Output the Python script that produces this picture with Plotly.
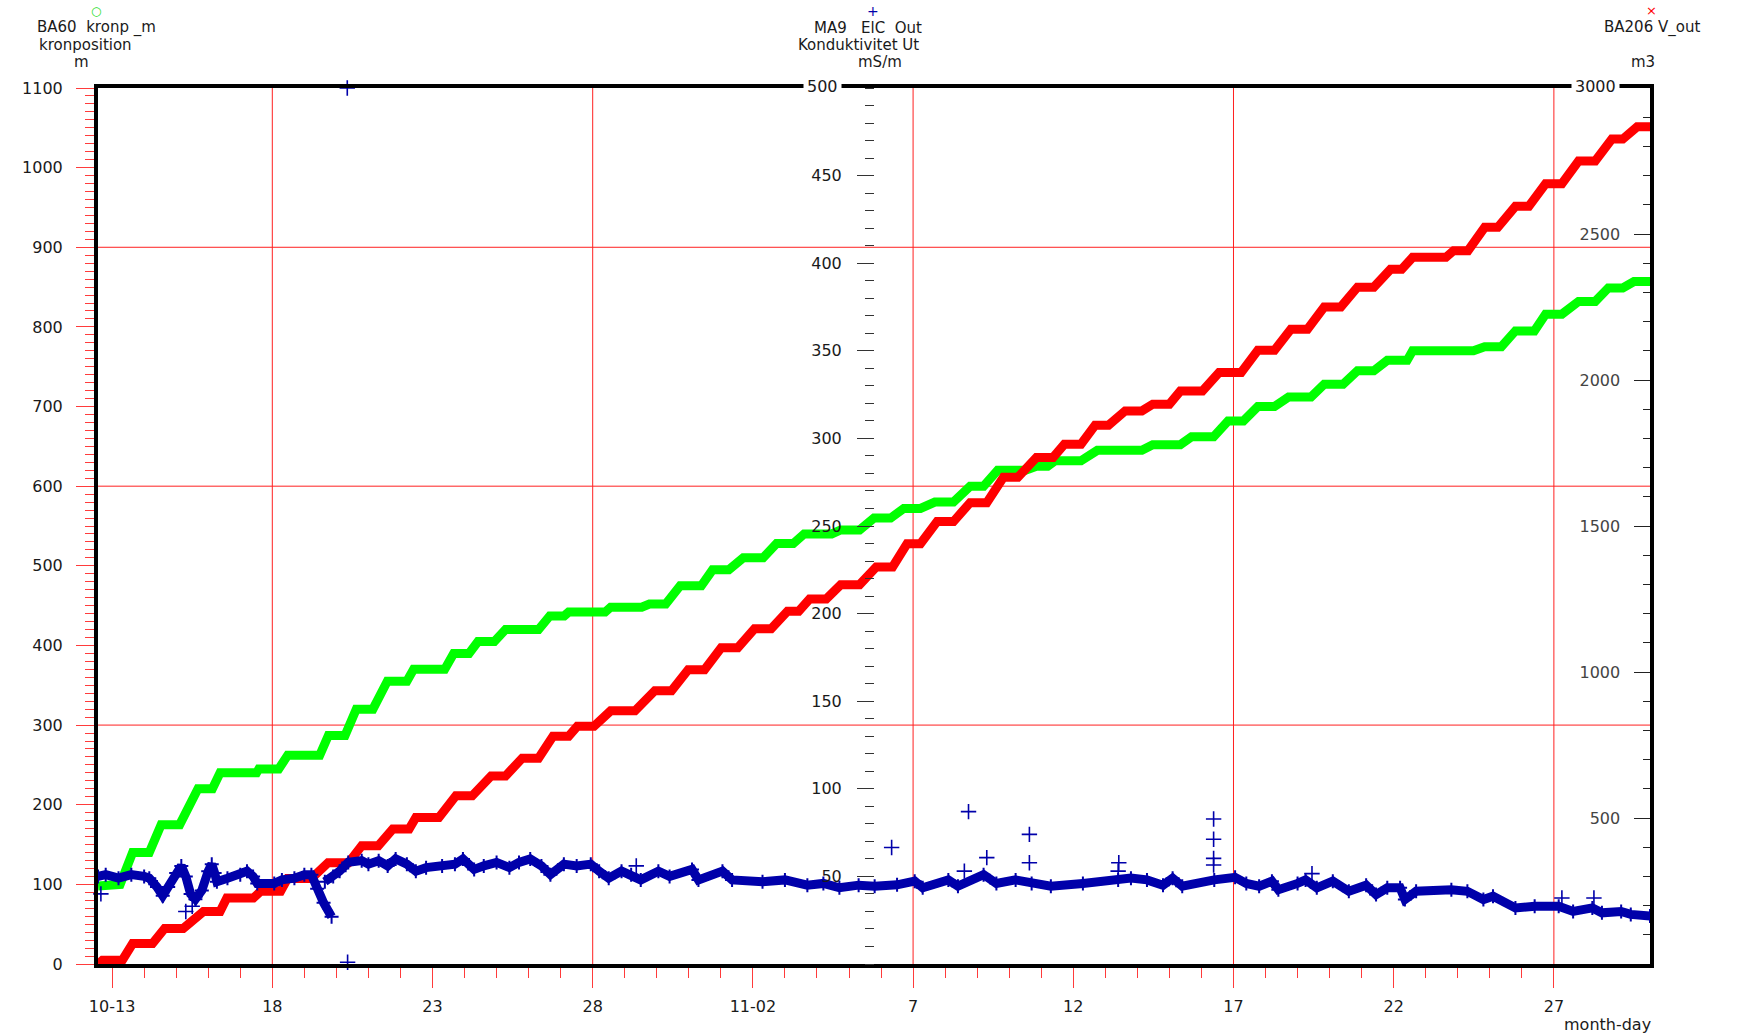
import pandas as pd
import plotly.graph_objects as go

BASE = pd.Timestamp("2023-10-13")

# ---- data (days after 2023-10-13 00:00) ----
green_days = [-0.44, 0.12, 0.25, 0.64, 1.16, 1.53, 2.11, 2.68, 3.13, 3.37, 4.51, 4.58, 5.20, 5.48, 6.48, 6.75,
              7.27, 7.62, 8.14, 8.59, 9.20, 9.41, 10.38, 10.66, 11.14, 11.42, 11.93, 12.28, 13.31, 13.66, 14.11,
              14.25, 15.39, 15.56, 16.53, 16.77, 17.28, 17.73, 18.39, 18.74, 19.25, 19.70, 20.32, 20.74, 21.26,
              21.60, 22.46, 22.74, 23.33, 23.78, 24.30, 24.71, 25.23, 25.68, 26.26, 26.78, 27.20, 27.64, 28.51,
              28.85, 29.20, 29.44, 30.24, 30.75, 32.14, 32.48, 33.34, 33.69, 34.38, 34.83, 35.31, 35.76, 36.28,
              36.72, 37.42, 37.83, 38.42, 38.87, 39.38, 39.80, 40.42, 40.59, 42.49, 42.84, 43.36, 43.80, 44.39,
              44.74, 45.25, 45.77, 46.29, 46.70, 47.15, 47.50, 48.0]
green_vals = [98, 98, 100, 140, 140, 175, 175, 220, 220, 240, 240, 245, 245, 262, 262, 287, 287, 320, 320, 355,
              355, 370, 370, 390, 390, 405, 405, 420, 420, 437, 437, 442, 442, 448, 448, 452, 452, 475, 475, 495,
              495, 510, 510, 528, 528, 540, 540, 545, 545, 560, 560, 572, 572, 580, 580, 600, 600, 620, 620, 625,
              625, 632, 632, 645, 645, 652, 652, 662, 662, 682, 682, 700, 700, 712, 712, 728, 728, 745, 745, 758,
              758, 770, 770, 775, 775, 795, 795, 816, 816, 832, 832, 849, 849, 857, 857]

red_days = [-0.43, -0.30, 0.32, 0.64, 1.26, 1.64, 2.22, 2.85, 3.37, 3.58, 4.41, 4.64, 5.26, 5.48, 6.22, 6.74,
            7.38, 7.79, 8.31, 8.76, 9.27, 9.48, 10.20, 10.73, 11.24, 11.83, 12.28, 12.80, 13.31, 13.76, 14.25,
            14.52, 15.04, 15.56, 16.32, 16.94, 17.46, 17.98, 18.49, 19.01, 19.53, 20.05, 20.57, 21.08, 21.43,
            21.77, 22.29, 22.74, 23.33, 23.85, 24.36, 24.81, 25.23, 25.75, 26.26, 26.78, 27.30, 27.82, 28.27,
            28.85, 29.37, 29.72, 30.24, 30.68, 31.10, 31.62, 32.14, 32.48, 33.00, 33.34, 34.03, 34.55, 35.24,
            35.76, 36.28, 36.79, 37.31, 37.83, 38.35, 38.87, 39.38, 39.90, 40.25, 40.59, 41.63, 41.87, 42.32,
            42.84, 43.25, 43.80, 44.22, 44.74, 45.25, 45.77, 46.29, 46.81, 47.15, 47.60, 48.0]
red_vals = [0, 13, 13, 70, 70, 122, 122, 180, 180, 226, 226, 249, 249, 293, 293, 347, 347, 405, 405, 462, 462,
            502, 502, 576, 576, 644, 644, 705, 705, 780, 780, 814, 814, 867, 867, 936, 936, 1008, 1008, 1083,
            1083, 1148, 1148, 1208, 1208, 1250, 1250, 1299, 1299, 1360, 1360, 1439, 1439, 1515, 1515, 1580, 1580,
            1667, 1667, 1735, 1735, 1780, 1780, 1845, 1845, 1894, 1894, 1917, 1917, 1962, 1962, 2026, 2026, 2102,
            2102, 2174, 2174, 2250, 2250, 2318, 2318, 2379, 2379, 2420, 2420, 2443, 2443, 2523, 2523, 2595, 2595,
            2672, 2672, 2750, 2750, 2825, 2825, 2867, 2867]

blue_days = [-0.44, -0.2, 0.2, 0.6, 1.0, 1.16, 1.4, 1.58, 1.75, 2.0,
             2.16, 2.3, 2.45, 2.6, 2.8, 3.0, 3.11, 3.2, 3.27, 3.6,
             4.0, 4.21, 4.4, 4.53, 5.06, 5.3, 5.69, 6.0, 6.22, 6.4,
             6.6, 6.85, None, 6.64, 6.9, 7.1, 7.37, 7.79, 8.0, 8.32,
             8.6, 8.85, 9.2, 9.48, 9.8, 10.3, 10.7, 10.95, 11.3, 11.6,
             12.0, 12.4, 12.7, 13.05, 13.4, 13.68, 14.1, 14.5, 14.94, 15.2,
             15.5, 15.9, 16.2, 16.5, 17.05, 17.4, 18.1, 18.3, 19.05, 19.35,
             20.3, 21.0, 21.7, 22.2, 22.7, 23.3, 23.8, 24.5, 25.05, 25.3,
             26.1, 26.4, 27.2, 27.6, 28.2, 28.7, 29.3, 30.3, 31.4, 31.8,
             32.3, 32.8, 33.1, 33.4, 34.4, 35.05, 35.4, 35.8, 36.2, 36.4,
             37.0, 37.25, 37.6, 38.1, 38.6, 39.14, 39.45, 39.8, 40.2, 40.35,
             40.7, 41.8, 42.3, 42.8, 43.1, 43.8, 44.4, 45.15, 45.6, 46.2,
             46.5, 47.1, 47.4, 48.0]
blue_vals = [50, 51, 49, 51, 50, 49, 44, 39, 44, 52,
             56, 50, 40, 37, 42, 53, 57, 52, 47, 49,
             51, 53, 50, 46, 46, 48, 49, 51, 51, 43,
             35, 27, None, 47, 50, 53, 58, 59, 57, 59,
             56, 60, 57, 53, 55, 56, 57, 60, 54, 56,
             58, 55, 58, 60, 56, 51, 57, 56, 57, 53,
             49, 53, 51, 48, 53, 50, 54, 48, 53, 48,
             47, 48, 45, 46, 43.5, 45, 44.4, 45.2, 47.3, 43.5,
             48, 44.4, 51, 46, 48, 46, 44.4, 46, 48, 49,
             48, 45, 49, 44.4, 48, 49.5, 46, 44.4, 47.3, 42.4,
             46, 48, 43.5, 47.3, 41.5, 45, 39.6, 43.5, 43.5, 36.8,
             41.5, 42.4, 41.5, 36.8, 38.7, 32, 33, 33, 30, 32,
             29.2, 30, 28.3, 27.4]

blue_out_days = [7.34, 7.35, -0.35, 2.30, 2.50, 16.36, 24.33, 26.73, 28.63, 27.30, 28.63, 26.60, 31.42, 31.40,
                 34.38, 34.38, 34.38, 34.38, 37.45, 45.25, 46.25]
blue_out_vals = [500, 1, 40, 30, 33, 56, 66.5, 87, 74, 60.7, 57.8, 53, 57.8, 53, 82.8, 71.2, 60.3, 56.5, 51.6,
                 37.7, 37.7]

x_tick_dates = ["2023-10-13", "2023-10-18", "2023-10-23", "2023-10-28", "2023-11-02",
                "2023-11-07", "2023-11-12", "2023-11-17", "2023-11-22", "2023-11-27"]
x_tick_text = ["10-13", "18", "23", "28", "11-02", "7", "12", "17", "22", "27"]
x_grid_dates = ["2023-10-18", "2023-10-28", "2023-11-07", "2023-11-17", "2023-11-27"]
left_grid_vals = [300, 600, 900]
x_range = ["2023-10-12 13:26", "2023-11-30 00:00"]


def to_time(days):
    return [None if d is None else BASE + pd.Timedelta(days=d) for d in days]


# ---- geometry helpers (pixel -> paper) ----
L, R, T, B = 98, 1650, 88, 964


def px(x):
    return (x - L) / (R - L)


def py(y):
    return (B - y) / (B - T)


FONT = "DejaVu Sans"
TXT = "#1a1a1a"
RED_T = "#ff3b3b"

fig = go.Figure()
fig.add_trace(go.Scatter(x=to_time(green_days), y=green_vals, mode="lines", yaxis="y",
                         line=dict(color="#00ff00", width=9), name="BA60 kronp_m"))
fig.add_trace(go.Scatter(x=to_time(red_days), y=red_vals, mode="lines", yaxis="y2",
                         line=dict(color="#ff0000", width=9), name="BA206 V_out"))
fig.add_trace(go.Scatter(x=to_time(blue_days), y=blue_vals, mode="lines+markers", yaxis="y3",
                         connectgaps=False,
                         line=dict(color="#0000aa", width=9),
                         marker=dict(symbol="cross-thin", size=10, color="#0000aa",
                                     line=dict(color="#0000aa", width=2)),
                         name="MA9 ElC Out"))
fig.add_trace(go.Scatter(x=to_time(blue_out_days), y=blue_out_vals, mode="markers", yaxis="y3",
                         cliponaxis=False,
                         marker=dict(symbol="cross-thin", size=11, color="#0000aa",
                                     line=dict(color="#0000aa", width=1.6)),
                         name="MA9 outliers"))

shapes = []
for d in x_grid_dates:
    shapes.append(dict(type="line", xref="x", yref="paper", x0=d, x1=d, y0=0, y1=1,
                       line=dict(color="#ff2020", width=1), layer="below"))
for v in left_grid_vals:
    shapes.append(dict(type="line", xref="paper", yref="y", x0=0, x1=1, y0=v, y1=v,
                       line=dict(color="#ff2020", width=1), layer="below"))

nb = "\u00a0"
ann = []


def add_text(text, x, y, xanchor="center", size=16, color=TXT, bg=None, pad=1):
    a = dict(text=text, xref="paper", yref="paper", x=px(x), y=py(y), xanchor=xanchor, yanchor="middle",
             showarrow=False, font=dict(family=FONT, size=size, color=color), borderpad=pad)
    if bg:
        a["bgcolor"] = bg
    ann.append(a)


HS = 15
add_text("○", 96, 11, size=12, color="#22dd22")
add_text("BA60" + nb * 2 + "kronp _m", 96, 28, size=HS)
add_text("kronposition", 85, 45, size=HS)
add_text("m", 81, 62, size=HS)
add_text("+", 873, 11, size=14, color="#0000aa")
add_text("MA9" + nb * 3 + "ElC" + nb * 2 + "Out", 868, 28, size=HS)
add_text("Konduktivitet Ut", 858, 45, size=HS)
add_text("mS/m", 880, 62, size=HS)
add_text("×", 1651, 11, size=13, color="#ff0000")
add_text("BA206 V_out", 1652, 28, size=HS)
add_text("m3", 1643, 62, size=HS)
add_text("month-day", 1653, 1024, xanchor="right")
add_text("500", 842, 87, xanchor="right", bg="white", pad=3)
add_text("3000", 1620, 87, xanchor="right", bg="white", pad=3)

fig.update_layout(
    width=1738, height=1034, autosize=False, showlegend=False,
    margin=dict(l=L, r=1738 - R, t=T, b=1034 - B),
    plot_bgcolor="white", paper_bgcolor="white",
    font=dict(family=FONT, size=16, color=TXT),
    shapes=shapes, annotations=ann,
    xaxis=dict(type="date", range=x_range, showgrid=False, zeroline=False,
               showline=True, linewidth=4, linecolor="black", mirror=True,
               tickmode="array", tickvals=x_tick_dates, ticktext=x_tick_text,
               ticks="outside", ticklen=20, tickwidth=1, tickcolor=RED_T, ticklabelstandoff=5,
               minor=dict(ticks="outside", dtick=86400000, tick0="2023-10-13", ticklen=10,
                          tickwidth=1, tickcolor=RED_T, showgrid=False)),
    yaxis=dict(range=[0, 1100], tickmode="linear", tick0=0, dtick=100, showgrid=False, zeroline=False,
               showline=True, linewidth=4, linecolor="black", mirror=True,
               ticks="outside", ticklen=18, tickwidth=1, tickcolor=RED_T, ticklabelstandoff=10,
               minor=dict(ticks="outside", dtick=10, ticklen=9, tickwidth=1, tickcolor=RED_T,
                          showgrid=False)),
    yaxis2=dict(overlaying="y", side="right", anchor="x", range=[0, 3000],
                tickmode="array", tickvals=[500, 1000, 1500, 2000, 2500],
                showgrid=False, zeroline=False, showline=False,
                ticks="inside", ticklen=16, tickwidth=1, tickcolor="#222",
                ticklabelposition="inside", ticklabelstandoff=14,
                minor=dict(ticks="inside", dtick=100, ticklen=7, tickwidth=1, tickcolor="#222",
                           showgrid=False)),
    yaxis3=dict(overlaying="y", side="left", anchor="free", position=0.5, range=[0, 500],
                tickmode="array", tickvals=[50, 100, 150, 200, 250, 300, 350, 400, 450],
                showgrid=False, zeroline=False, showline=False,
                ticks="outside", ticklen=17, tickwidth=1, tickcolor="#333", ticklabelstandoff=12,
                minor=dict(ticks="outside", dtick=10, ticklen=9, tickwidth=1, tickcolor="#333",
                           showgrid=False)),
)

fig.write_html("out.html")
